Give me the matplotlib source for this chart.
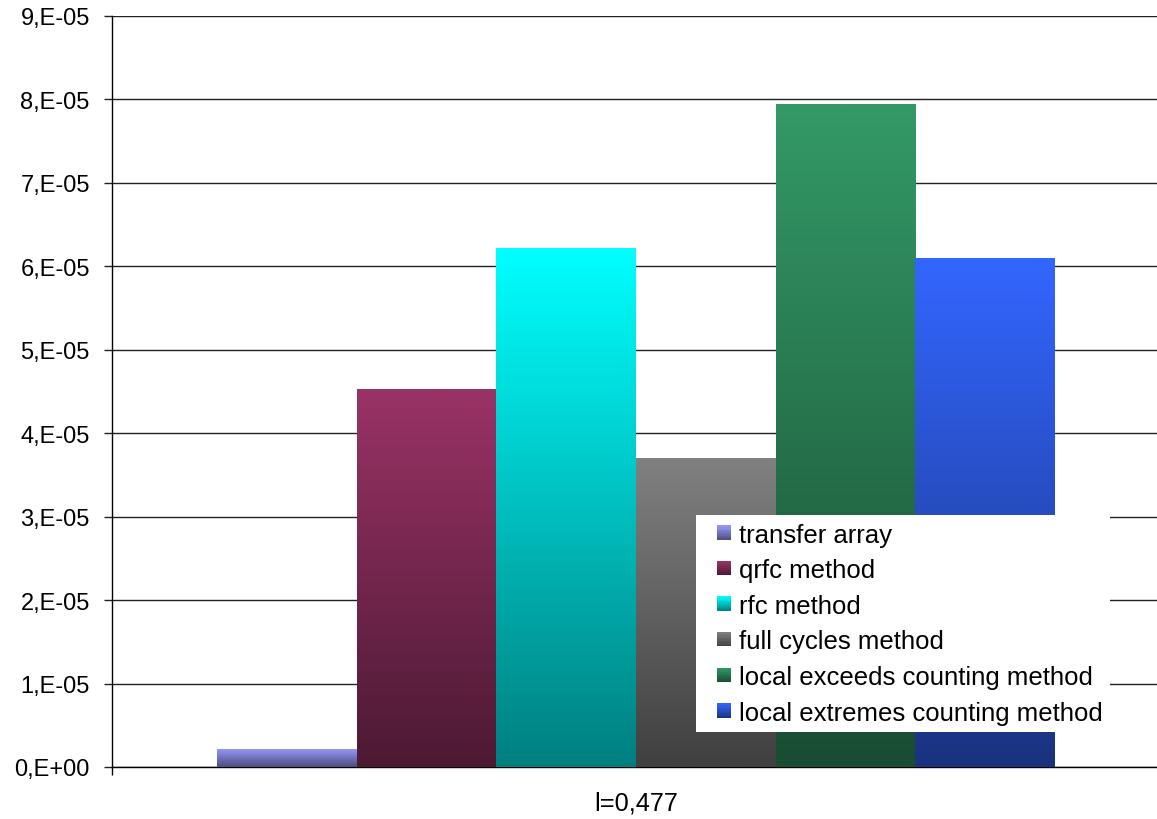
import numpy as np
import matplotlib
matplotlib.use("Agg")
import matplotlib.pyplot as plt
from matplotlib.legend_handler import HandlerBase
from matplotlib.patches import Rectangle
from matplotlib.colors import to_rgb

plt.rcParams['font.family'] = ['Liberation Sans', 'DejaVu Sans']

# data
methods = ['transfer array', 'qrfc method', 'rfc method', 'full cycles method',
           'local exceeds counting method', 'local extremes counting method']
values = [2.2e-06, 4.53e-05, 6.22e-05, 3.70e-05, 7.95e-05, 6.10e-05]
colors = ['#9999FF', '#993366', '#00FFFF', '#808080', '#339966', '#3366FF']
category = 'l=0,477'
yticks = [0, 1e-05, 2e-05, 3e-05, 4e-05, 5e-05, 6e-05, 7e-05, 8e-05, 9e-05]
ytick_labels = ['0,E+00', '1,E-05', '2,E-05', '3,E-05', '4,E-05',
                '5,E-05', '6,E-05', '7,E-05', '8,E-05', '9,E-05']

TICK_FS = 17.0
LEG_FS = 18.5
CAT_FS = 18.3


def ramp(c, n=64):
    # vertical ramp: full colour at the top, half brightness at the bottom
    top = np.array(to_rgb(c))
    t = np.linspace(0.5, 1.0, n)[:, None]
    return (top[None, :] * t)[:, None, :]


class GradientSquare(HandlerBase):
    def create_artists(self, legend, orig_handle, xdescent, ydescent,
                       width, height, fontsize, trans):
        c = np.array(to_rgb(orig_handle.get_facecolor()))
        side = 14 * 72 / 100  # 14 px square
        x0 = -xdescent + width - side
        y0 = -ydescent + (height - side) / 2
        n = 10
        arts = []
        for i in range(n):
            f = 0.5 + 0.5 * (i + 0.5) / n
            r = Rectangle((x0, y0 + side * i / n), side, side / n + 0.3,
                          facecolor=c * f, edgecolor='none', transform=trans)
            arts.append(r)
        return arts


fig = plt.figure(figsize=(11.57, 8.20), dpi=100)
ax = fig.add_axes([112 / 1157, 52 / 820, 1048 / 1157, 751 / 820])

n = len(values)
w = 0.8 / n
xs = -0.4 + w / 2 + w * np.arange(n)
bars = ax.bar(xs, values, width=w, color=colors, zorder=2, linewidth=0)
for b, c, lab in zip(bars, colors, methods):
    b.set_label(lab)
    x0, y0 = b.get_x(), b.get_y()
    im = ax.imshow(ramp(c), extent=[x0, x0 + b.get_width(), y0, y0 + b.get_height()],
                   origin='lower', aspect='auto', zorder=3, interpolation='bilinear')
    im.set_clip_path(b)

ax.set_xlim(-0.5, 0.5)
ax.set_ylim(0, 9e-05)
ax.set_aspect('auto')

ax.set_yticks(yticks)
ax.set_yticklabels(ytick_labels, fontsize=TICK_FS)
ax.tick_params(axis='y', direction='out', length=6, width=1, pad=10, color='#222222')
ax.set_xticks([0])
ax.set_xticklabels([category], fontsize=CAT_FS)
ax.tick_params(axis='x', length=0, pad=17)
ax.set_xticks([-0.5, 0.5], minor=True)
ax.tick_params(axis='x', which='minor', direction='out', length=6, width=1)

ax.grid(axis='y', color='#222222', linewidth=1.0, zorder=1)
ax.set_axisbelow(True)
for s in ['top', 'right']:
    ax.spines[s].set_visible(False)
for s in ['left', 'bottom']:
    ax.spines[s].set_color('black')
    ax.spines[s].set_linewidth(1.0)

leg = ax.legend(handles=list(bars), labels=methods, fontsize=LEG_FS,
                handler_map={Rectangle: GradientSquare()},
                loc='upper left', bbox_to_anchor=(696 / 1157, 1 - 516 / 820),
                bbox_transform=fig.transFigure, borderaxespad=0,
                frameon=True, fancybox=False, framealpha=1,
                facecolor='white', edgecolor='none',
                borderpad=0.3, handlelength=1.05, handletextpad=0.31,
                labelspacing=0.45)
leg.set_zorder(5)

fig.savefig('out.png', dpi=100)
